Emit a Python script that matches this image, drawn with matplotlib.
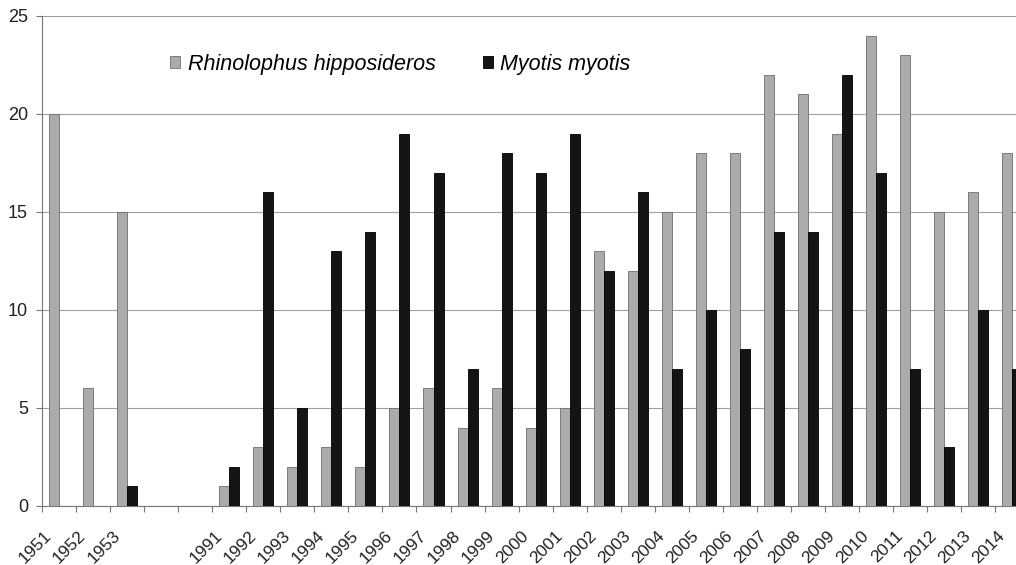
import matplotlib
matplotlib.use("Agg")
import matplotlib.pyplot as plt
import numpy as np

# categories (two empty slots between 1953 and 1991, as in the original)
years = ['1951', '1952', '1953', '', '',
         '1991', '1992', '1993', '1994', '1995', '1996', '1997', '1998',
         '1999', '2000', '2001', '2002', '2003', '2004', '2005', '2006',
         '2007', '2008', '2009', '2010', '2011', '2012', '2013', '2014']

rhinolophus = [20, 6, 15, None, None,
               1, 3, 2, 3, 2, 5, 6, 4, 6, 4, 5, 13, 12, 15, 18, 18,
               22, 21, 19, 24, 23, 15, 16, 18]

myotis = [0, 0, 1, None, None,
          2, 16, 5, 13, 14, 19, 17, 7, 18, 17, 19, 12, 16, 7, 10, 8,
          14, 14, 22, 17, 7, 3, 10, 7]

plt.rcParams['font.family'] = ['Liberation Sans', 'DejaVu Sans']

fig = plt.figure(figsize=(10.16, 5.65), dpi=100)
ax = fig.add_axes([42 / 1016, 59 / 565, 974 / 1016, 490 / 565])

x = np.arange(len(years))
r = np.array([np.nan if v is None else v for v in rhinolophus], dtype=float)
m = np.array([np.nan if v is None else v for v in myotis], dtype=float)

w = 0.294
ax.bar(x - w / 2, r, w, color='#ababab', edgecolor='#6e6e6e', linewidth=0.6,
       label='Rhinolophus hipposideros', zorder=3)
ax.bar(x + w / 2, m, w, color='#141414', edgecolor='#000000', linewidth=0.6,
       label='Myotis myotis', zorder=3)

ax.set_yticks([0, 5, 10, 15, 20, 25])
ax.yaxis.grid(True, color='#a0a0a0', linewidth=0.8, zorder=0)

# ticks at category boundaries, labels (slightly left of centre, Excel style)
ax.set_xticks(np.arange(len(years) + 1) - 0.5, minor=False)
ax.set_xticklabels([])
ax.set_xticks(x - 0.44, minor=True)
ax.set_xticklabels(years, minor=True, rotation=45, ha='right', va='top',
                   rotation_mode='anchor', fontsize=12.5, color='#222222')
ax.tick_params(axis='x', which='minor', length=0, pad=16)
ax.tick_params(axis='x', which='major', length=4, color='#777777', direction='out')
ax.tick_params(axis='y', length=4, color='#777777', labelsize=13,
               labelcolor='#222222', pad=6)

ax.set_xlim(-0.5, 28.11)
ax.set_ylim(0, 25)

for s in ['top', 'right']:
    ax.spines[s].set_visible(False)
for s in ['left', 'bottom']:
    ax.spines[s].set_color('#777777')
    ax.spines[s].set_linewidth(0.8)

leg = ax.legend(loc='center', bbox_to_anchor=(0.368, 0.902), ncol=2,
                frameon=False, handlelength=0.45, handleheight=0.45,
                handletextpad=0.35, columnspacing=2.2,
                prop={'style': 'italic', 'size': 15.5})

plt.savefig('out.png', dpi=100)
